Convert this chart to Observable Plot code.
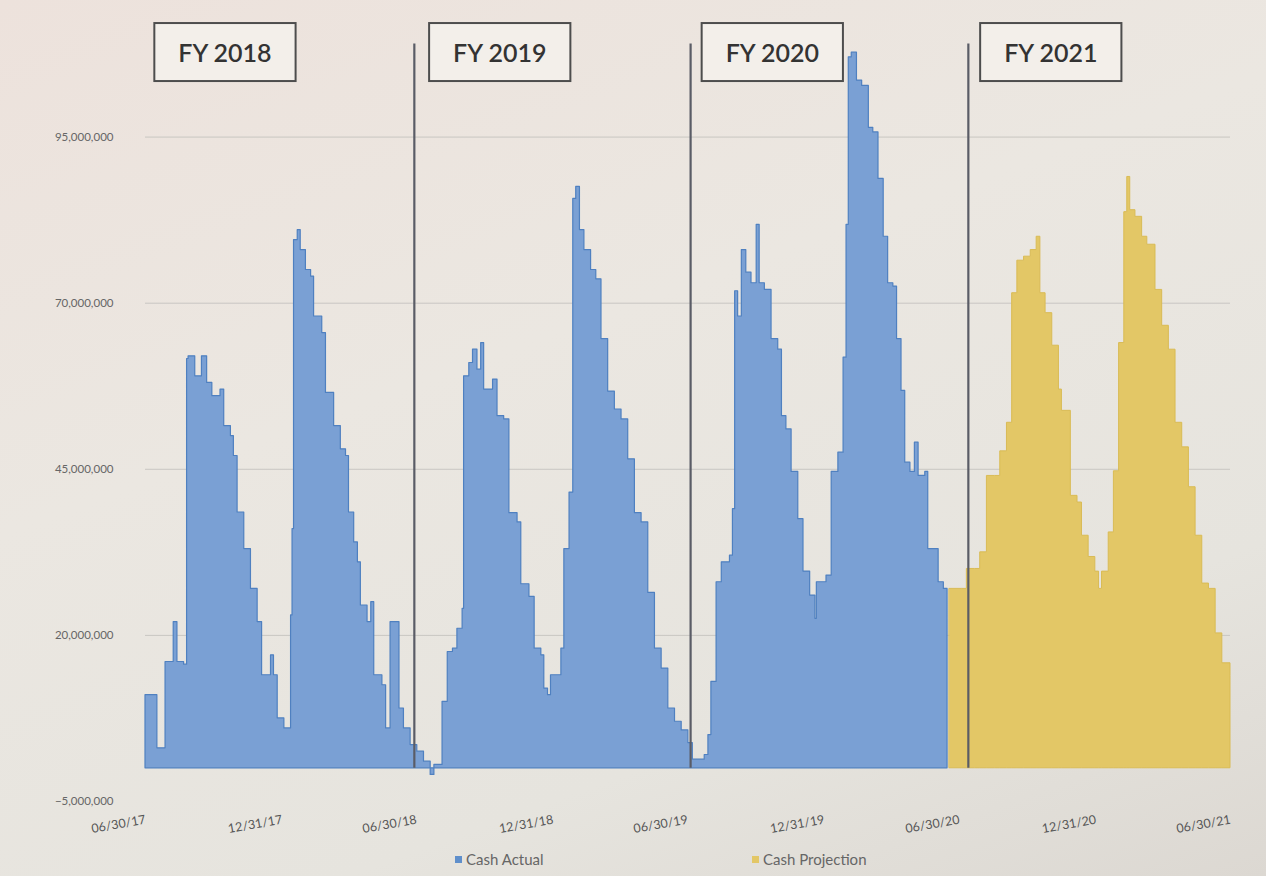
<!DOCTYPE html>
<html>
<head>
<meta charset="utf-8">
<script src="https://cdn.jsdelivr.net/npm/d3@7"></script>
<script src="https://cdn.jsdelivr.net/npm/@observablehq/plot@0.6"></script>
<style>
  html, body { margin: 0; padding: 0; background: #ebe6e0; }
  #wrap { position: relative; width: 1266px; height: 876px; overflow: hidden;
          background: linear-gradient(160deg, #ede2dc 0%, #ebe7e1 40%, #e6e4de 75%, #dcd8d2 100%); }
  #chart svg { display: block; }
  .legend { position: absolute; top: 850px; font-family: Lato, "Open Sans", sans-serif; font-size: 15px; color: #666; display: flex; align-items: center; gap: 4px; }
  .legend .sw { width: 7px; height: 7px; display: inline-block; }
</style>
</head>
<body>
<div id="wrap">
  <div id="chart"></div>
  <div class="legend" style="left:455px"><span class="sw" style="background:#5f8fcb"></span>Cash Actual</div>
  <div class="legend" style="left:752px"><span class="sw" style="background:#e3c766"></span>Cash Projection</div>
</div>
<script>
// ---- Data (values in millions) ----
const actualDates = [
  "2017-06-30","2017-07-13","2017-07-16","2017-07-27","2017-08-07","2017-08-12","2017-08-21","2017-08-25","2017-08-27","2017-09-05",
  "2017-09-14","2017-09-21","2017-09-28","2017-10-09","2017-10-14","2017-10-23","2017-10-27","2017-11-01","2017-11-10","2017-11-19",
  "2017-11-28","2017-12-04","2017-12-16","2017-12-20","2017-12-25","2018-01-03","2018-01-12","2018-01-14","2018-01-16","2018-01-21",
  "2018-01-25","2018-02-01","2018-02-08","2018-02-12","2018-02-23","2018-02-28","2018-03-11","2018-03-20","2018-03-27","2018-03-31",
  "2018-04-07","2018-04-12","2018-04-16","2018-04-25","2018-04-30","2018-05-04","2018-05-11","2018-05-15","2018-05-20","2018-05-26",
  "2018-06-02","2018-06-07","2018-06-13","2018-06-22","2018-07-01","2018-07-10","2018-07-19","2018-07-24","2018-08-04","2018-08-11",
  "2018-08-18","2018-08-24","2018-08-31","2018-09-02","2018-09-09","2018-09-14","2018-09-20","2018-09-25","2018-09-29","2018-10-11",
  "2018-10-17","2018-10-26","2018-11-02","2018-11-13","2018-11-18","2018-11-29","2018-12-06","2018-12-15","2018-12-19","2018-12-24",
  "2018-12-28","2019-01-11","2019-01-15","2019-01-22","2019-01-27","2019-01-31","2019-02-05","2019-02-11","2019-02-20","2019-02-27",
  "2019-03-06","2019-03-15","2019-03-24","2019-04-02","2019-04-11","2019-04-20","2019-04-29","2019-05-08","2019-05-17","2019-05-26",
  "2019-06-04","2019-06-13","2019-06-22","2019-07-01","2019-07-07","2019-07-23","2019-07-28","2019-08-01","2019-08-08","2019-08-15",
  "2019-08-26","2019-08-30","2019-09-02","2019-09-06","2019-09-11","2019-09-17","2019-09-24","2019-10-01","2019-10-05","2019-10-12",
  "2019-10-21","2019-10-30","2019-11-04","2019-11-10","2019-11-17","2019-11-26","2019-12-03","2019-12-12","2019-12-19","2019-12-21",
  "2020-01-03","2020-01-10","2020-01-19","2020-01-26","2020-01-30","2020-02-02","2020-02-06","2020-02-13","2020-02-20","2020-02-29",
  "2020-03-06","2020-03-13","2020-03-20","2020-03-26","2020-04-02","2020-04-07","2020-04-13","2020-04-18","2020-04-25","2020-05-01",
  "2020-05-06","2020-05-15","2020-05-19","2020-06-02","2020-06-09","2020-06-14"
];
const actualValues = [
  11, 11, 3, 16, 22, 16, 15.6, 61.6, 62, 59,
  62, 58, 56, 57, 51.5, 50, 47, 38.5, 33, 27,
  22, 14, 17, 14, 7.5, 6, 23, 36, 79.5, 81,
  78, 75, 74, 68, 65.5, 56.5, 51.5, 48, 47, 38.5,
  34, 31, 24.5, 22, 25, 14, 14, 12.5, 6, 22,
  22, 9, 6, 3.5, 2.5, 1, -1, 0.5, 10, 17.5,
  18, 21, 24, 59, 61, 63, 60, 64, 57, 58.5,
  53, 52.5, 38.4, 37, 27.7, 25.8, 18, 17, 12, 11,
  14, 18, 33, 41.5, 85.7, 87.5, 81, 78, 75, 73.6,
  64.6, 56.7, 54, 52.5, 46.5, 38.4, 37, 26.4, 18, 15,
  9, 7, 5.7, 3.8, 1.3, 2, 5, 13, 28, 31,
  32, 39, 71.8, 68, 78, 74.6, 73, 81.8, 73, 72,
  64.6, 63, 53, 51, 44.6, 37.5, 29.6, 26, 22.5, 28,
  29, 44.6, 47.5, 61.8, 81.8, 107, 107.7, 103.5, 102.7, 96.4,
  95.7, 88.7, 80, 73, 72.5, 64.6, 56.8, 46, 44.6, 49,
  44, 44.6, 33, 28, 27, 27
];
const projectionDates = [
  "2020-06-17","2020-07-03","2020-07-10","2020-07-21","2020-07-28","2020-08-06","2020-08-17","2020-08-24","2020-09-02","2020-09-09",
  "2020-09-16","2020-09-25","2020-10-04","2020-10-12","2020-10-17","2020-10-24","2020-11-02","2020-11-11","2020-11-15","2020-11-27",
  "2020-12-06","2020-12-12","2020-12-21","2020-12-30","2021-01-04","2021-01-08","2021-01-17","2021-01-24","2021-01-31","2021-02-07",
  "2021-02-11","2021-02-15","2021-02-22","2021-03-03","2021-03-10","2021-03-21","2021-03-30","2021-04-08","2021-04-17","2021-04-26",
  "2021-05-05","2021-05-14","2021-05-23","2021-06-01","2021-06-10","2021-06-19","2021-06-30"
];
const projectionValues = [
  27, 27, 30, 30, 32.5, 44, 44, 47.7, 52, 71.5,
  76.4, 77, 78, 80, 71.5, 68.5, 63.6, 57, 53.8, 41,
  40, 35, 31.8, 29.6, 27, 29.6, 35.5, 44.7, 64, 83.7,
  89, 84, 83, 80, 78.8, 72, 66.6, 63, 52, 48.3,
  42.3, 35, 27.8, 27, 20.3, 15.8, 13.9
];
const yTicks = [-5e6, 20e6, 45e6, 70e6, 95e6];
const xTickDates = ["2017-06-30","2017-12-31","2018-06-30","2018-12-31","2019-06-30","2019-12-31","2020-06-30","2020-12-31","2021-06-30"];
const fyLabels = ["FY 2018","FY 2019","FY 2020","FY 2021"];
const fyLabelDates = ["2017-10-15","2018-10-20","2019-10-22","2020-10-31"];
const fyLineDates = ["2018-06-27","2019-07-04","2020-07-12"];

// ---- Build tables ----
const parse = d3.utcParse("%Y-%m-%d");
const actual = actualDates.map((d, i) => ({date: parse(d), value: actualValues[i] * 1e6}));
const projection = projectionDates.map((d, i) => ({date: parse(d), value: projectionValues[i] * 1e6}));
const fyText = fyLabels.map((l, i) => ({label: l, date: parse(fyLabelDates[i])}));
const fyLines = fyLineDates.map(parse);

const fmt = d3.format(",");
const font = "Lato, 'Open Sans', sans-serif";

const svg = Plot.plot({
  width: 1266,
  height: 845,
  marginLeft: 145,
  marginRight: 36,
  marginTop: 17,
  marginBottom: 44,
  style: {background: "transparent", fontFamily: font, color: "#555"},
  x: {
    type: "utc",
    domain: [parse("2017-06-30"), parse("2021-06-30")],
    label: null
  },
  y: {
    domain: [-5e6, 113e6],
    label: null
  },
  marks: [
    Plot.gridY(yTicks.filter(t => t > 0), {stroke: "#c9c6c2", strokeOpacity: 1, strokeWidth: 1}),
    Plot.areaY(actual, {x: "date", y: "value", curve: "step-after", fill: "#7aa0d4", stroke: "#4f80c0", strokeWidth: 1.2}),
    Plot.areaY(projection, {x: "date", y: "value", curve: "step-after", fill: "#e3c766", stroke: "#d9bb55", strokeWidth: 1}),
    Plot.ruleX(fyLines, {y1: 0, y2: 109e6, stroke: "#5a5c66", strokeWidth: 2.2}),
    Plot.text(fyText, {x: "date", y: () => 107.5e6, text: "label", fontSize: 25, fontWeight: 600, fill: "#333", fontFamily: font}),
    Plot.axisX({ticks: xTickDates.map(parse), tickFormat: d3.utcFormat("%m/%d/%y"), tickSize: 0, tickPadding: 18, tickRotate: -10, fontSize: 12.5, fill: "#555", label: null}),
    Plot.axisY({ticks: yTicks, tickFormat: fmt, tickSize: 0, tickPadding: 32, fontSize: 11.5, fill: "#666", label: null})
  ]
});
document.getElementById("chart").appendChild(svg);

// boxes around the FY labels
svg.querySelectorAll("text").forEach(t => {
  if (/^FY \d{4}$/.test(t.textContent)) {
    const b = t.getBBox();
    const r = document.createElementNS("http://www.w3.org/2000/svg", "rect");
    r.setAttribute("x", b.x - 24);
    r.setAttribute("y", b.y - 14);
    r.setAttribute("width", b.width + 48);
    r.setAttribute("height", b.height + 28);
    r.setAttribute("fill", "#f3efea");
    r.setAttribute("stroke", "#4d4d4d");
    r.setAttribute("stroke-width", 2);
    const tr = t.getAttribute("transform");
    if (tr) r.setAttribute("transform", tr);
    t.parentNode.insertBefore(r, t);
  }
});
</script>
</body>
</html>
